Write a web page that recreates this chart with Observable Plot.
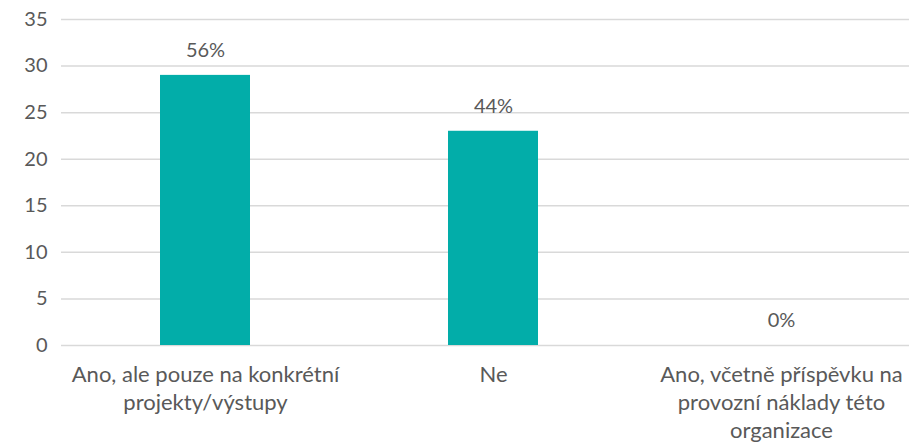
<!DOCTYPE html>
<html>
<head>
<meta charset="utf-8">
<script src="https://cdn.jsdelivr.net/npm/d3@7"></script>
<script src="https://cdn.jsdelivr.net/npm/@observablehq/plot@0.6"></script>
<style>
  html, body { margin: 0; padding: 0; background: #fff; }
  #chart svg { display: block; }
</style>
</head>
<body>
<div id="chart"></div>
<script>
const categories = [
  "Ano, ale pouze na konkrétní\nprojekty/výstupy",
  "Ne",
  "Ano, včetně příspěvku na\nprovozní náklady této\norganizace"
];
const values = [29, 23, 0];
const valueLabels = ["56%", "44%", "0%"];
const yTicks = [0, 5, 10, 15, 20, 25, 30, 35];

const data = categories.map((c, i) => ({cat: c, value: values[i], label: valueLabels[i]}));

const font = "Lato, 'Open Sans', sans-serif";
const txt = "#595959";

const chart = Plot.plot({
  width: 909,
  height: 444,
  marginTop: 19,
  marginBottom: 99,
  marginLeft: 61,
  marginRight: 0,
  style: {fontFamily: font, background: "#fff"},
  x: {domain: categories, range: [61, 925], paddingInner: 0.6875, paddingOuter: 0.34375},
  y: {domain: [0, 35], range: [345, 19]},
  marks: [
    Plot.ruleY(yTicks, {stroke: "#d9d9d9", strokeWidth: 1.5}),
    Plot.axisY({ticks: yTicks, tickSize: 0, tickPadding: 14, fontSize: 20, fill: txt, label: null, fontFamily: font}),
    Plot.barY(data, {x: "cat", y: "value", fill: "#02ADA9"}),
    Plot.text(data, {x: "cat", y: "value", text: "label", dy: -25, fontSize: 20, fill: txt, fontFamily: font}),
    Plot.axisX({tickSize: 0, tickPadding: 16, fontSize: 22, lineHeight: 1.28, fill: txt, label: null, fontFamily: font})
  ]
});
document.getElementById("chart").appendChild(chart);
</script>
</body>
</html>
